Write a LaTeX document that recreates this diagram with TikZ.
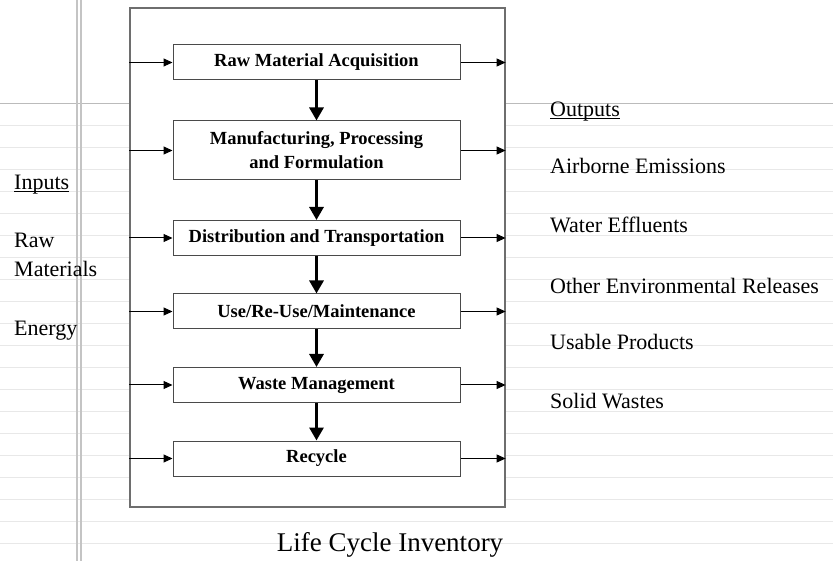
\documentclass[tikz,border=0pt]{standalone}
\usepackage{fontspec}
\setmainfont{Liberation Serif}
\usepackage{xcolor}
\usepackage{tikz}
\usetikzlibrary{arrows.meta, positioning, calc}
\definecolor{ruleline}{HTML}{E8E8E8}
\definecolor{topline}{HTML}{BBBBBB}
\definecolor{marginline}{HTML}{C4C4C4}
\definecolor{boxgray}{HTML}{4A4A4A}
\definecolor{framegray}{HTML}{6E6E6E}

\tikzset{
    stage/.style={draw=boxgray, line width=1pt, fill=white, minimum width=287pt,
        minimum height=35pt, inner sep=2pt, align=center,
        font=\fontsize{18.5}{24}\selectfont\bfseries},
    sidetext/.style={font=\fontsize{22}{26}\selectfont, inner sep=0pt, anchor=base west},
    flowin/.style={-{Triangle[length=9pt,width=8pt]}, line width=1pt},
    stepdown/.style={-{Triangle[length=13pt,width=14pt]}, line width=3pt}
}

\begin{document}
\begin{tikzpicture}[x=1pt, y=-1pt]
    \useasboundingbox (0,0) rectangle (833,561);

    % Ruled paper
    \foreach \k in {1,...,20}
        \draw[ruleline, line width=0.8pt] (0,{103+22*\k}) -- (833,{103+22*\k});
    \draw[topline, line width=0.9pt] (0,103) -- (833,103);
    \draw[marginline, line width=1.1pt] (77,0) -- (77,561);
    \draw[marginline, line width=1.1pt] (81,0) -- (81,561);

    % Outer frame
    \node[draw=framegray, line width=1.2pt, fill=white, minimum width=375pt,
        minimum height=499pt, inner sep=0pt] (lci) at (317.5,257.5) {};

    % Life cycle stages
    \node[stage] (acq) at (316.5,62.5) {Raw Material Acquisition};
    \node[stage, minimum height=59pt] (mfg) at (316.5,150.5) {Manufacturing, Processing\\and Formulation};
    \node[stage] (dist) at (316.5,238) {Distribution and Transportation};
    \node[stage] (use) at (316.5,311.5) {Use/Re-Use/Maintenance};
    \node[stage] (waste) at (316.5,385) {Waste Management};
    \node[stage] (recy) at (316.5,458.5) {Recycle};

    % Flows in and out of each stage
    \foreach \s in {acq,mfg,dist,use,waste,recy} {
        \draw[flowin] (lci.west |- \s.west) -- (\s.west);
        \draw[flowin] (\s.east) -- (lci.east |- \s.east);
    }
    \draw[stepdown] (acq) -- (mfg);
    \draw[stepdown] (mfg) -- (dist);
    \draw[stepdown] (dist) -- (use);
    \draw[stepdown] (use) -- (waste);
    \draw[stepdown] (waste) -- (recy);

    % Inputs
    \node[sidetext] (inputs) at (14,190) {\underline{\smash{Inputs}}};
    \node[sidetext] (raw) at (14,248) {Raw};
    \node[sidetext] (materials) at (14,277) {Materials};
    \node[sidetext] (energy) at (14,336) {Energy};

    % Outputs
    \node[sidetext] (outputs) at (550,117) {\underline{\smash{Outputs}}};
    \node[sidetext] (airborne) at (550,174) {Airborne Emissions};
    \node[sidetext] (water) at (550,233) {Water Effluents};
    \node[sidetext] (otherrel) at (550,294) {Other Environmental Releases};
    \node[sidetext] (usable) at (550,350) {Usable Products};
    \node[sidetext] (solid) at (550,409) {Solid Wastes};

    % Caption
    \node[font=\fontsize{27}{30}\selectfont, inner sep=0pt, anchor=base] (title) at (390,551) {Life Cycle Inventory};
\end{tikzpicture}
\end{document}
